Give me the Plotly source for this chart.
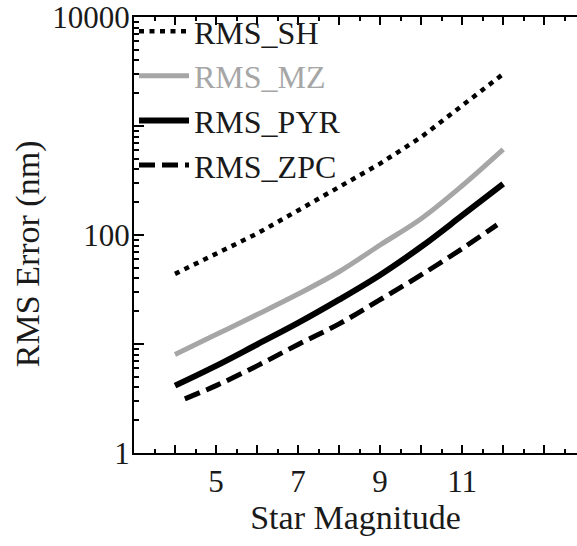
import plotly.graph_objects as go

# Star magnitude (x) and RMS error in nm (y)
mag = [4, 5, 6, 7, 8, 9, 10, 11, 12]
rms_sh = [44, 68, 103, 168, 273, 452, 790, 1560, 3000]
rms_mz = [8.0, 12.2, 18.6, 28.7, 46, 81, 141, 283, 610]
rms_pyr = [4.15, 6.3, 9.9, 15.6, 25.5, 43, 78, 151, 295]
mag_zpc = [4.24, 5, 6, 7, 8, 9, 10, 11, 11.85]
rms_zpc = [3.14, 4.15, 6.3, 9.9, 15.3, 25.5, 43, 75, 124]

x_tickvals = [4, 5, 6, 7, 8, 9, 10, 11, 12, 13]
x_ticktext = ["", "5", "", "7", "", "9", "", "11", "", ""]
y_tickvals = [1, 10, 100, 1000, 10000]
y_ticktext = ["1", "", "100", "", "10000"]

FONT = "Liberation Serif, Times New Roman, serif"
INK = "#1a1a1a"

fig = go.Figure()
fig.add_trace(go.Scatter(x=mag, y=rms_sh, mode="lines", name="RMS_SH",
                         line=dict(color="black", width=4.5, dash="5px,5.5px")))
fig.add_trace(go.Scatter(x=mag, y=rms_mz, mode="lines",
                         name="<span style='color:#a6a6a6'>RMS_MZ</span>",
                         line=dict(color="#a6a6a6", width=5, shape="spline")))
fig.add_trace(go.Scatter(x=mag, y=rms_pyr, mode="lines", name="RMS_PYR",
                         line=dict(color="black", width=6, shape="spline")))
fig.add_trace(go.Scatter(x=mag_zpc, y=rms_zpc, mode="lines", name="RMS_ZPC",
                         line=dict(color="black", width=5, dash="16px,7px", shape="spline")))

fig.update_layout(
    width=577, height=546,
    margin=dict(l=134, r=0, t=14, b=93),
    paper_bgcolor="white", plot_bgcolor="white",
    font=dict(family=FONT, color=INK, size=30),
    showlegend=True,
    legend=dict(x=0.0, y=1.03, xanchor="left", yanchor="top",
                bgcolor="rgba(0,0,0,0)", font=dict(size=32, family=FONT, color=INK),
                itemwidth=50, tracegroupgap=0),
    xaxis=dict(
        range=[3, 13.8], showgrid=False, zeroline=False,
        showline=True, linecolor="black", linewidth=2, mirror="ticks",
        tickmode="array", tickvals=x_tickvals, ticktext=x_ticktext,
        ticks="inside", ticklen=8, tickwidth=2, tickcolor="black",
        tickfont=dict(size=31, family=FONT, color=INK),
        ticklabelstandoff=0,
        minor=dict(tickmode="linear", tick0=3.5, dtick=1, ticks="inside",
                   ticklen=4, tickwidth=2, tickcolor="black", showgrid=False),
        title=dict(text="Star Magnitude", font=dict(size=34, family=FONT, color=INK),
                   standoff=6),
    ),
    yaxis=dict(
        type="log", range=[0, 4], showgrid=False, zeroline=False,
        showline=True, linecolor="black", linewidth=2,
        tickmode="array", tickvals=y_tickvals, ticktext=y_ticktext,
        ticks="inside", ticklen=10, tickwidth=2, tickcolor="black",
        tickfont=dict(size=31, family=FONT, color=INK),
        ticklabelstandoff=-4, ticklabeloverflow="allow",
        minor=dict(dtick="D1", ticks="inside", ticklen=5, tickwidth=1.5,
                   tickcolor="black", showgrid=False),
    ),
    annotations=[dict(
        text="RMS Error (nm)", textangle=-90, showarrow=False,
        xref="paper", yref="paper", x=0, y=0.456,
        xanchor="center", yanchor="middle", xshift=-106,
        font=dict(size=34, family=FONT, color=INK),
    )],
)

fig.write_html("out.html")
